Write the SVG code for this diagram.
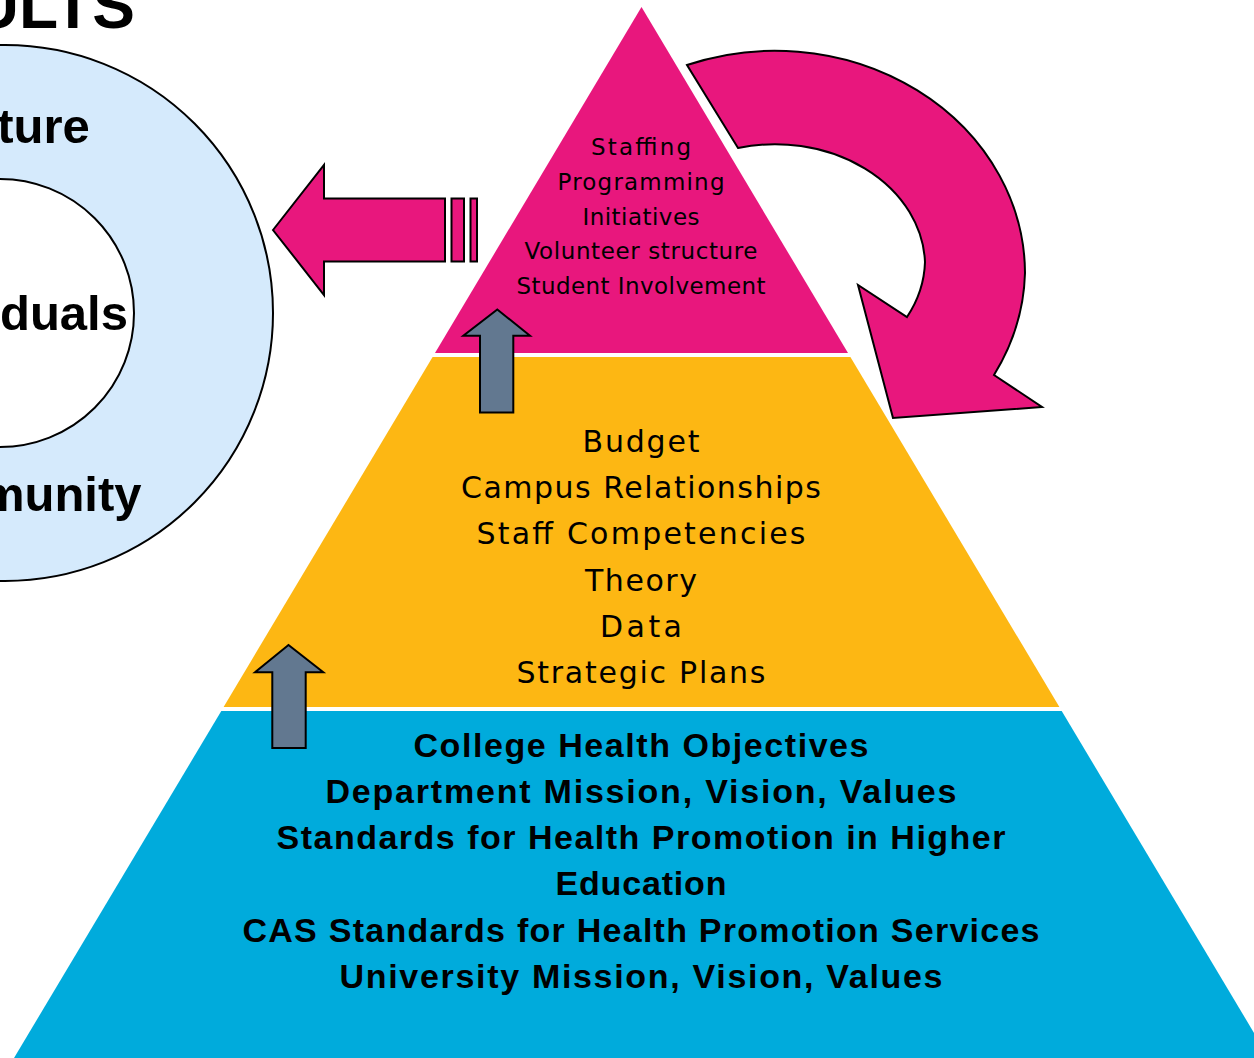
<svg xmlns="http://www.w3.org/2000/svg" width="1254" height="1058" viewBox="0 0 1254 1058">
  <style>
    .lbl { font-family: "Liberation Sans", Arial, sans-serif; font-weight: bold; font-size: 49px; fill: #000; }
    .pk { font-family: "DejaVu Sans", "Liberation Sans", sans-serif; font-size: 23px; fill: #000; text-anchor: middle; }
    .yl { font-family: "DejaVu Sans", "Liberation Sans", sans-serif; font-size: 30px; fill: #000; text-anchor: middle; }
    .bl { font-family: "Liberation Sans", Arial, sans-serif; font-size: 34px; font-weight: bold; fill: #000; text-anchor: middle; }
    .arrowPink { fill: #E8177D; stroke: #000; stroke-width: 2; stroke-linejoin: miter; }
    .arrowGray { fill: #627890; stroke: #000; stroke-width: 2; }
  </style>
  <rect width="1254" height="1058" fill="#fff"/>

  <g id="title">
    <text x="135" y="28" font-family="Liberation Sans, Arial, sans-serif" font-weight="bold" font-size="64" text-anchor="end">RESULTS</text>
  </g>

  <g id="circles">
    <circle cx="5" cy="313" r="268" fill="#D5EAFC" stroke="#000" stroke-width="2"/>
    <circle cx="0" cy="313" r="134" fill="#fff" stroke="#000" stroke-width="2"/>
    <text class="lbl" x="-128" y="143">Structure</text>
    <text class="lbl" x="-128" y="330">Individuals</text>
    <text class="lbl" x="-128" y="511">Community</text>
  </g>

  <g id="tier-top">
    <polygon points="641.5,7 848,353 435,353" fill="#E8177D"/>
    <text class="pk" x="641" y="155" textLength="100" lengthAdjust="spacing">Staffing</text>
    <text class="pk" x="641" y="190" textLength="167" lengthAdjust="spacing">Programming</text>
    <text class="pk" x="641" y="224.5" textLength="117" lengthAdjust="spacing">Initiatives</text>
    <text class="pk" x="641" y="259" textLength="233" lengthAdjust="spacing">Volunteer structure</text>
    <text class="pk" x="641" y="293.5" textLength="249" lengthAdjust="spacing">Student Involvement</text>
  </g>

  <g id="tier-middle">
    <polygon points="432.6,357 850.4,357 1059.4,707 223.6,707" fill="#FDB713"/>
    <text class="yl" x="641" y="452" textLength="117" lengthAdjust="spacing">Budget</text>
    <text class="yl" x="641" y="498.2" textLength="360" lengthAdjust="spacing">Campus Relationships</text>
    <text class="yl" x="641" y="544.4" textLength="329" lengthAdjust="spacing">Staff Competencies</text>
    <text class="yl" x="641" y="590.6" textLength="112" lengthAdjust="spacing">Theory</text>
    <text class="yl" x="641" y="636.8" textLength="82" lengthAdjust="spacing">Data</text>
    <text class="yl" x="641" y="683" textLength="249" lengthAdjust="spacing">Strategic Plans</text>
  </g>

  <g id="tier-base">
    <polygon points="221.3,711 1061.7,711 1269,1058 14,1058" fill="#00ABDC"/>
    <text class="bl" x="641" y="757" textLength="455" lengthAdjust="spacing">College Health Objectives</text>
    <text class="bl" x="641" y="803" textLength="631" lengthAdjust="spacing">Department Mission, Vision, Values</text>
    <text class="bl" x="641" y="849" textLength="729" lengthAdjust="spacing">Standards for Health Promotion in Higher</text>
    <text class="bl" x="641" y="895" textLength="171" lengthAdjust="spacing">Education</text>
    <text class="bl" x="641" y="941.5" textLength="797" lengthAdjust="spacing">CAS Standards for Health Promotion Services</text>
    <text class="bl" x="641" y="987.5" textLength="603" lengthAdjust="spacing">University Mission, Vision, Values</text>
  </g>

  <g id="connectors">
    <g id="arrow-left">
      <polygon class="arrowPink" points="273,230 324,165 324,198.5 445,198.5 445,261.5 324,261.5 324,295"/>
      <rect class="arrowPink" x="451.5" y="198.5" width="12.5" height="63"/>
      <rect class="arrowPink" x="470.5" y="198.5" width="6.5" height="63"/>
    </g>
    <path id="arrow-cycle" class="arrowPink" d="M687,65 A250,223 0 0 1 1025,273 A250,223 0 0 1 994,375 L1042,407 L893,418 L858,285 L907,317 A150,122 0 0 0 925,262 A150,122 0 0 0 738,148 Z"/>
    <polygon id="arrow-up-1" class="arrowGray" points="497.3,309.5 530,335.7 513.3,335.7 513.3,412.5 480,412.5 480,335.7 463.3,335.7"/>
    <polygon id="arrow-up-2" class="arrowGray" points="288.5,645 323.3,672.3 305.7,672.3 305.7,748 272.3,748 272.3,672.3 255,672.3"/>
  </g>
</svg>
